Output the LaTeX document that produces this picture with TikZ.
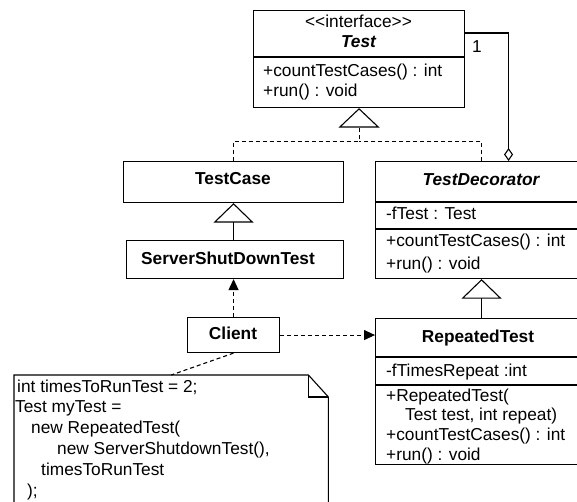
\documentclass[tikz,border=0pt]{standalone}
\usepackage{fontspec}
\setmainfont{Liberation Sans}
\usetikzlibrary{arrows.meta,calc}
\begin{document}
\begin{tikzpicture}[x=1pt,y=-1pt,
  box/.style={draw,line width=1.1pt,rectangle,inner sep=0pt,anchor=north west},
  txt/.style={inner sep=0pt,text height=13pt,text depth=3pt,font=\fontsize{17.3}{20}\selectfont},
  ltxt/.style={txt,anchor=west},
  btxt/.style={txt,font=\fontsize{17.3}{20}\selectfont\bfseries},
  bitxt/.style={txt,font=\fontsize{17.3}{20}\selectfont\bfseries\itshape},
  solidline/.style={line width=1.1pt},
  dashline/.style={line width=1.1pt,dash pattern=on 4pt off 3pt},
  realize/.style={dashline,-{Triangle[open,length=19.5pt,width=41pt]}},
  gen/.style={solidline,-{Triangle[open,length=19.5pt,width=40pt]}},
  dep/.style={dashline,-{Triangle[length=11pt,width=10pt]}},
  agg/.style={solidline,-{Diamond[open,length=13pt,width=9pt]}}
]
\useasboundingbox (0,0) rectangle (577,502);
\clip (0,0) rectangle (577,502);

% Test interface
\node[box,minimum width=211pt,minimum height=97pt] (Test) at (253,10) {};
\draw[solidline] ($(Test.north west)+(0,47)$) -- ($(Test.north east)+(0,47)$);
\node[txt] (TestSt) at (358.5,23) {<\kern0pt<interface>\kern0pt>};
\node[bitxt] (TestName) at (358.5,43) {Test};
\node[ltxt] (TestM1) at (263,72) {+countTestCases() : int};
\node[ltxt] (TestM2) at (263,92) {+run() : void};

% TestCase
\node[box,minimum width=220pt,minimum height=41pt] (TestCase) at (123,161) {};
\node[btxt] (TestCaseName) at (233,180) {TestCase};

% ServerShutDownTest
\node[box,minimum width=217pt,minimum height=38pt] (SSDT) at (126,240) {};
\node[btxt] (SSDTName) at (228,259) {ServerShutDownTest};

% Client
\node[box,minimum width=92pt,minimum height=35pt] (Client) at (187,317) {};
\node[btxt] (ClientName) at (233,334) {Client};

% TestDecorator
\node[box,minimum width=212pt,minimum height=117pt] (TD) at (375,161) {};
\draw[solidline] ($(TD.north west)+(0,41)$) -- ($(TD.north east)+(0,41)$);
\draw[solidline] ($(TD.north west)+(0,68)$) -- ($(TD.north east)+(0,68)$);
\node[bitxt] (TDName) at (481,181) {TestDecorator};
\node[ltxt] (TDA1) at (386,215) {-fTest : Test};
\node[ltxt] (TDM1) at (386,242) {+countTestCases() : int};
\node[ltxt] (TDM2) at (386,264) {+run() : void};

% RepeatedTest
\node[box,minimum width=212pt,minimum height=146pt] (RT) at (375,318) {};
\draw[solidline] ($(RT.north west)+(0,39)$) -- ($(RT.north east)+(0,39)$);
\draw[solidline] ($(RT.north west)+(0,67)$) -- ($(RT.north east)+(0,67)$);
\node[btxt] (RTName) at (478,337) {RepeatedTest};
\node[ltxt] (RTA1) at (386,371) {-fTimesRepeat :int};
\node[ltxt] (RTM1) at (386,396) {+RepeatedTest(};
\node[ltxt] (RTM1b) at (405,415) {Test test, int repeat)};
\node[ltxt] (RTM2) at (386,435) {+countTestCases() : int};
\node[ltxt] (RTM3) at (386,455) {+run() : void};

% Note
\node[inner sep=0pt,minimum width=314pt,minimum height=140pt,anchor=north west] (Note) at (14,375) {};
\draw[solidline] (Note.south west) -- (Note.north west) -- ($(Note.north east)+(-20,0)$)
  -- ($(Note.north east)+(0,22)$) -- (Note.south east);
\draw[solidline] ($(Note.north east)+(-20,0)$) |- ($(Note.north east)+(0,22)$);
\node[ltxt] (N1) at (17,387) {int timesToRunTest = 2;};
\node[ltxt] (N2) at (15,407) {Test myTest =};
\node[ltxt] (N3) at (31,428) {new RepeatedTest(};
\node[ltxt] (N4) at (57,449) {new ServerShutdownTest(),};
\node[ltxt] (N5) at (41,470) {timesToRunTest};
\node[ltxt] (N6) at (27,491) {);};

% Connectors
\coordinate (j) at ($(Test.south)+(0,33)$);
\draw[realize] (TestCase.north) |- (j) -- (Test.south);
\draw[dashline] (TD.north) |- (j);
\draw[agg] ($(Test.north east)+(0,23)$) -| ($(TD.north)+(27,0)$);
\node[txt] (One) at (477,48) {1};
\draw[gen] (SSDT.north -| TestCase.south) -- (TestCase.south);
\draw[gen] (RT.north) -- (TD.south);
\draw[dep] (Client.north) -- (Client.north |- SSDT.south);
\draw[dep] (Client.east) -- (Client.east -| RT.west);
\draw[dashline] (Client.south) -- (Note.north);
\end{tikzpicture}
\end{document}
